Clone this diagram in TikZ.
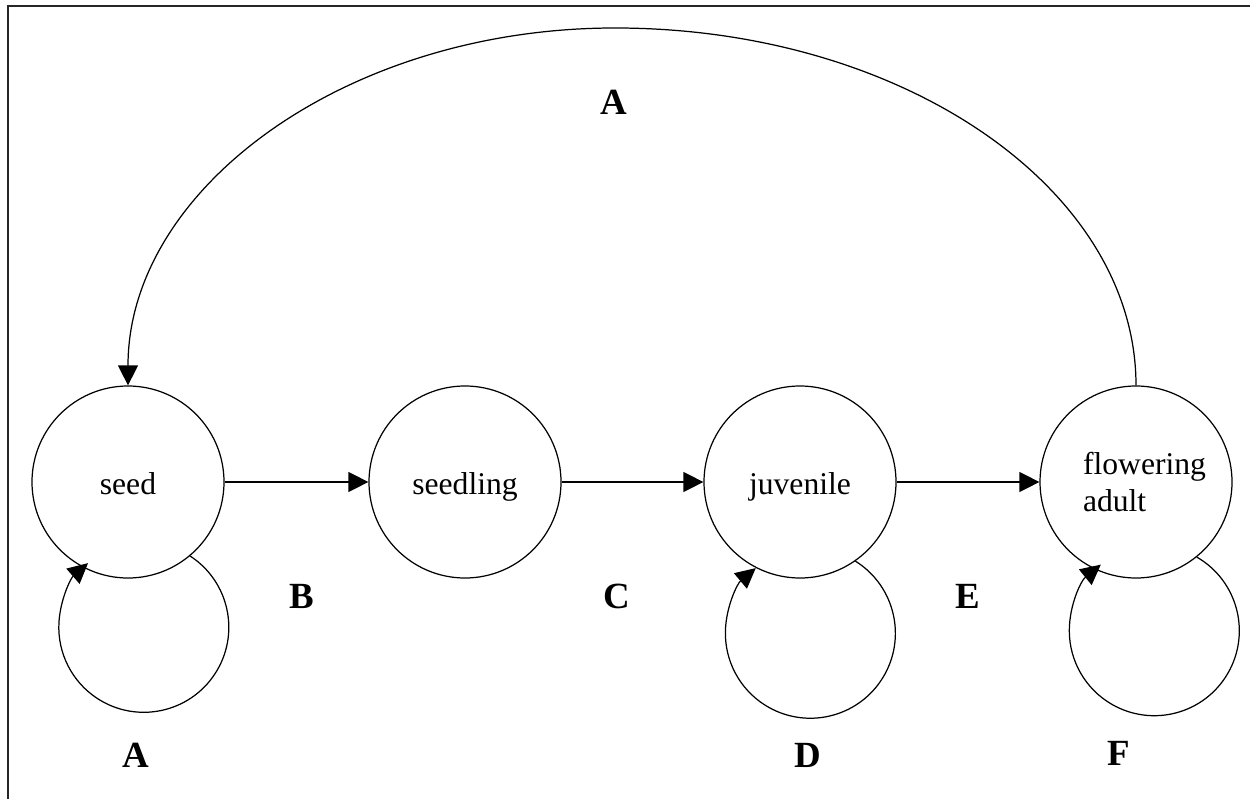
\documentclass[tikz,border=0pt]{standalone}
\usepackage{fontspec}
\setmainfont{Liberation Serif}
\usetikzlibrary{arrows.meta}

\begin{document}
\begin{tikzpicture}[
    state/.style={draw, circle, minimum size=3.84cm, inner sep=0pt, line width=0.7pt,
      font=\fontsize{18}{21}\selectfont},
    oneline/.style={text height=0.6cm, text depth=0.1cm},
    lab/.style={font=\fontsize{21}{24}\selectfont\bfseries},
    arr/.style={line width=0.7pt, -{Triangle[length=0.4cm,width=0.4cm]}}
  ]
    \useasboundingbox (0,0) rectangle (25,15.98);
    \draw[line width=1.3pt, black!85] (0.16,0) -- (0.16,15.86) -- (25,15.86);

    \node[state, oneline] (seed) at (2.56,6.34) {seed};
    \node[state, oneline] (seedling) at (9.3,6.34) {seedling};
    \node[state, oneline] (juvenile) at (16,6.34) {juvenile};
    \node[state, align=left] (adult) at (22.72,6.34) {\hspace*{0.34cm}flowering\\\hspace*{0.34cm}adult};

    \draw[arr] (seed) -- (seedling);
    \draw[arr] (seedling) -- (juvenile);
    \draw[arr] (juvenile) -- (adult);

    \draw[arr] (adult.north) .. controls (22.72,12.21) and (18.05,15.42) .. (12.3,15.42)
      .. controls (6.92,15.42) and (2.56,12.21) .. (seed.north);

    \draw[arr] (seed.-50) arc[start angle=57, end angle=-229, radius=1.7];
    \draw[arr] (juvenile.-55) arc[start angle=58, end angle=-230, radius=1.7];
    \draw[arr] (adult.-51) arc[start angle=60, end angle=-231, radius=1.7];

    \node[lab] (atop) at (12.28,13.93) {A};
    \node[lab] (b) at (6.04,4.06) {B};
    \node[lab] (c) at (12.34,4.06) {C};
    \node[lab] (e) at (19.36,4.06) {E};
    \node[lab] (aseed) at (2.72,0.88) {A};
    \node[lab] (d) at (16.16,0.88) {D};
    \node[lab] (f) at (22.38,0.92) {F};
\end{tikzpicture}
\end{document}
